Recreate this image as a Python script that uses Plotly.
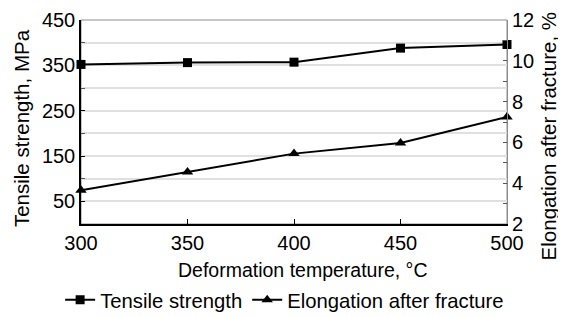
import plotly.graph_objects as go

temperature = [300, 350, 400, 450, 500]
tensile_strength = [352, 356, 357, 388, 396]
elongation = [3.65, 4.55, 5.45, 5.97, 7.25]

left_ticks = [50, 150, 250, 350, 450]
right_ticks = [2, 4, 6, 8, 10, 12]
x_ticks = [300, 350, 400, 450, 500]

x_title = "Deformation temperature, °C"
left_title = "Tensile strength, MPa"
right_title = "Elongation after fracture, %"

FONT = "Liberation Sans, Arial, sans-serif"

fig = go.Figure()
fig.add_trace(go.Scatter(
    x=temperature, y=tensile_strength, name="Tensile strength",
    mode="lines+markers", line=dict(color="black", width=2),
    marker=dict(symbol="square", size=9, color="black"), yaxis="y", cliponaxis=False))
fig.add_trace(go.Scatter(
    x=temperature, y=elongation, name="Elongation after fracture",
    mode="lines+markers", line=dict(color="black", width=2),
    marker=dict(symbol="triangle-up", size=10, color="black"), yaxis="y2", cliponaxis=False))

# plot frame (gray top/right border)
fig.add_shape(type="rect", xref="paper", yref="paper", x0=0, x1=1, y0=0, y1=1,
              line=dict(color="#8c8c8c", width=1), layer="below")

fig.add_annotation(text=x_title, xref="paper", yref="paper", x=0.52, y=-0.225,
                   xanchor="center", yanchor="middle", showarrow=False,
                   font=dict(size=19.5))
fig.add_annotation(text=left_title, xref="paper", yref="paper", x=-0.141, y=0.47,
                   xanchor="center", yanchor="middle", showarrow=False, textangle=-90,
                   font=dict(size=20.5))
fig.add_annotation(text=right_title, xref="paper", yref="paper", x=1.097, y=0.431,
                   xanchor="center", yanchor="middle", showarrow=False, textangle=-90,
                   font=dict(size=20.5))

fig.update_layout(
    width=558, height=309,
    margin=dict(l=73, r=59, t=12, b=93, pad=0, autoexpand=False),
    paper_bgcolor="white", plot_bgcolor="white",
    font=dict(family=FONT, size=20, color="black"),
    showlegend=True,
    legend=dict(orientation="h", x=-0.049, xanchor="left",
                y=-0.373, yanchor="middle",
                font=dict(size=20.3), itemwidth=30, tracegroupgap=0),
    xaxis=dict(
        range=[300, 500], tickvals=x_ticks, ticks="inside", ticklen=5,
        tickcolor="black", showline=True, linecolor="black", linewidth=1.5,
        showgrid=False, zeroline=False, tickfont=dict(size=20), automargin=False),
    yaxis=dict(
        range=[0, 450], tickvals=left_ticks, ticks="inside", ticklen=4,
        tickcolor="black", showline=True, linecolor="black", linewidth=1.5,
        showgrid=True, gridcolor="#e0e0e0", gridwidth=1.5, zeroline=False,
        tickfont=dict(size=20), automargin=False,
        minor=dict(dtick=50, tick0=0, ticks="inside", ticklen=4, tickcolor="#555",
                   showgrid=True, gridcolor="#e0e0e0", gridwidth=1.5)),
    yaxis2=dict(
        range=[2, 12], tickvals=right_ticks, overlaying="y", side="right",
        ticks="inside", ticklen=4, tickcolor="#555", showline=True,
        linecolor="#8c8c8c", linewidth=1, showgrid=False, zeroline=False,
        tickfont=dict(size=20), automargin=False,
        minor=dict(dtick=1, tick0=2, ticks="inside", ticklen=4, tickcolor="#555")),
)

fig.write_html("out.html")
